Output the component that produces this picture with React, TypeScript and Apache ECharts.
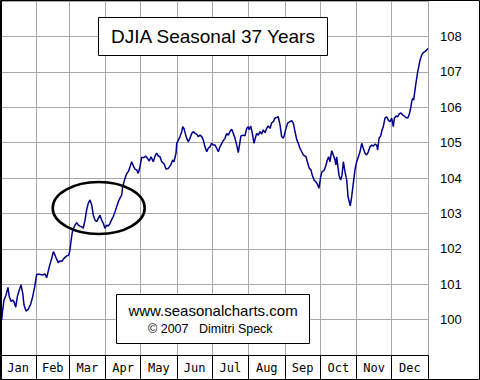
import React, { useEffect, useRef } from "react";
import * as echarts from "echarts";

const TITLE = "DJIA Seasonal 37 Years";
const SITE = "www.seasonalcharts.com";
const COPY_YEAR = "© 2007";
const COPY_NAME = "Dimitri Speck";

const months = ["Jan", "Feb", "Mar", "Apr", "May", "Jun", "Jul", "Aug", "Sep", "Oct", "Nov", "Dec"];
const monthStarts = [0, 31, 59, 90, 120, 151, 181, 212, 243, 273, 304, 334, 365];
const yTicks = [100, 101, 102, 103, 104, 105, 106, 107, 108];

// day of year
const days = [1.4,2.3,3.4,5.1,6.8,7.9,9.4,10.8,11.9,13.4,14.8,16.5,17.9,19.4,20.5,22.2,24.1,26.2,27.9,29.6,31.3,33.5,36.4,38.4,39.8,42.0,44.1,45.5,46.9,48.4,49.7,51.2,52.6,54.6,56.9,58.6,59.7,60.5,
61.1,61.7,62.5,64.0,65.4,66.8,68.2,69.7,71.0,72.5,73.9,75.3,76.8,78.2,79.6,81.0,82.5,83.8,85.3,86.7,88.1,89.5,91.0,92.4,93.8,95.3,96.6,98.1,99.5,100.9,102.3,103.8,104.6,106.6,108.1,109.4,110.9,112.3,113.7,115.1,116.6,117.9,119.4,
120.8,122.8,124.5,125.6,127.3,128.8,130.7,132.2,133.6,135.0,136.4,137.9,139.9,141.6,143.5,145.6,147.3,148.4,150.1,150.7,152.1,153.5,155.0,155.8,156.9,158.0,159.2,160.6,162.0,163.5,164.8,166.3,167.7,169.1,170.6,172.0,173.4,174.8,176.3,177.6,179.1,180.5,181.9,183.4,184.8,186.2,187.6,
189.9,191.9,193.3,194.7,196.1,197.6,199.0,200.4,201.9,203.2,204.7,205.5,207.5,208.9,210.4,211.7,212.6,213.8,215.2,216.6,217.7,218.9,220.3,221.7,223.2,224.5,226.0,227.4,228.8,230.3,231.7,233.1,234.5,236.0,237.3,238.8,240.2,241.6,242.5,243.9,245.3,247.3,248.8,250.1,251.6,253.0,254.4,255.8,
258.7,261.0,262.1,263.8,265.2,266.3,267.8,269.2,270.6,272.0,273.5,274.6,276.3,277.8,279.1,280.3,281.4,282.9,284.2,285.7,286.5,287.1,288.0,289.1,290.5,291.7,292.8,294.2,295.7,296.8,297.9,298.7,299.9,301.3,302.7,304.2,305.6,307.0,308.5,309.8,311.3,312.7,314.1,315.5,
317.0,318.4,319.8,321.2,322.1,323.2,324.7,325.8,326.9,328.3,329.8,331.1,332.6,334.0,335.4,336.3,337.7,339.2,340.5,342.0,343.4,344.8,346.2,347.7,349.1,350.2,351.1,352.0,352.8,353.7,354.5,355.4,356.2,357.1,358.2,359.6,361.0,362.4,363.9,365.0];

const values = [99.99,100.27,100.55,100.69,100.91,100.65,100.51,100.55,100.51,100.35,100.65,100.84,100.98,100.74,100.41,100.24,100.29,100.44,100.65,100.93,101.28,101.28,101.26,101.29,101.18,101.49,101.73,101.92,101.82,101.70,101.61,101.66,101.64,101.73,101.80,101.82,101.97,102.20,
102.34,102.48,102.55,102.67,102.74,102.67,102.64,102.62,102.58,102.81,103.10,103.29,103.38,103.24,102.95,102.81,102.77,102.86,102.95,102.81,102.72,102.58,102.67,102.64,102.72,102.83,102.91,103.05,103.19,103.33,103.43,103.52,103.75,103.99,104.13,104.18,104.32,104.46,104.34,104.25,104.23,104.13,104.32,
104.58,104.58,104.62,104.56,104.48,104.60,104.46,104.62,104.70,104.62,104.60,104.46,104.40,104.25,104.27,104.37,104.51,104.46,104.70,104.98,105.07,105.17,105.31,105.45,105.40,105.26,105.12,105.03,105.12,105.26,105.31,105.26,105.24,105.17,105.21,105.17,105.07,104.88,104.74,104.84,104.88,104.98,104.93,104.93,104.84,104.74,104.88,
105.03,105.12,105.26,105.21,105.31,105.38,105.26,105.12,104.93,104.72,105.03,105.19,105.21,105.19,105.40,105.45,105.36,105.47,105.26,104.98,105.12,105.26,105.21,105.31,105.24,105.36,105.28,105.40,105.47,105.40,105.56,105.59,105.69,105.71,105.73,105.50,105.17,105.12,105.21,105.40,105.55,105.59,105.62,105.55,105.31,105.09,104.98,104.84,
104.65,104.60,104.46,104.27,104.23,104.08,103.94,103.90,103.83,103.71,104.04,104.18,104.21,104.34,104.51,104.60,104.46,104.77,104.65,104.51,104.37,104.60,104.37,104.08,103.94,104.08,104.46,104.18,103.94,103.47,103.33,103.21,103.47,103.85,104.23,104.46,104.60,104.74,104.98,104.84,104.70,104.65,104.74,104.88,
104.93,104.90,104.96,104.93,104.79,105.12,105.19,105.36,105.45,105.69,105.73,105.64,105.59,105.69,105.45,105.69,105.75,105.73,105.81,105.84,105.78,105.75,105.71,105.69,105.81,105.97,106.16,106.25,106.20,106.44,106.63,106.82,107.00,107.14,107.33,107.47,107.54,107.57,107.62,107.66];

export default function App() {
  const ref = useRef<HTMLDivElement>(null);
  useEffect(() => {
    if (!ref.current) return;
    const chart = echarts.init(ref.current, null, { renderer: "svg" });
    const mids = months.map((_, i) => (monthStarts[i] + monthStarts[i + 1]) / 2);
    const data = days.map((d, i) => [d, values[i]]);
    chart.setOption({
      animation: false,
      backgroundColor: "#ffffff",
      grid: { left: 0, right: 52, top: 1, bottom: 25, containLabel: false },
      xAxis: {
        type: "value",
        min: 0,
        max: 365,
        axisLine: { show: true, onZero: false, lineStyle: { color: "#000", width: 1 } },
        axisTick: { show: true, customValues: monthStarts, length: 25, lineStyle: { color: "#000", width: 1 } },
        splitLine: { show: true, lineStyle: { color: "#a8a8a8", width: 1 } },
        axisLabel: {
          customValues: mids,
          formatter: (v: number) => {
            let best = 0;
            mids.forEach((m, i) => { if (Math.abs(m - v) < Math.abs(mids[best] - v)) best = i; });
            return months[best];
          },
          color: "#000",
          fontFamily: "DejaVu Sans Mono",
          fontSize: 12,
          margin: 7,
        },
      },
      yAxis: {
        type: "value",
        position: "right",
        min: 99,
        max: 109,
        interval: 1,
        axisLine: { show: false },
        axisTick: { show: false },
        splitLine: { show: true, lineStyle: { color: "#a8a8a8", width: 1 } },
        axisLabel: {
          formatter: (v: number) => (yTicks.indexOf(v) >= 0 ? String(v) : ""),
          color: "#000",
          fontFamily: "Liberation Sans",
          fontSize: 13,
          margin: 12,
        },
      },
      series: [
        {
          type: "line",
          data,
          showSymbol: false,
          symbol: "none",
          lineStyle: { color: "#00008b", width: 1.5 },
          z: 3,
        },
      ],
      graphic: [
        {
          type: "rect",
          z: 100,
          shape: { x: 98.5, y: 17.5, width: 229, height: 38 },
          style: { fill: "#fff", stroke: "#000", lineWidth: 1 },
        },
        {
          type: "text",
          z: 101,
          x: 213,
          y: 36.5,
          style: { text: TITLE, fill: "#000", fontSize: 19, fontFamily: "Liberation Sans", align: "center", verticalAlign: "middle" },
        },
        {
          type: "rect",
          z: 100,
          shape: { x: 116.5, y: 294.5, width: 193, height: 49 },
          style: { fill: "#fff", stroke: "#000", lineWidth: 1 },
        },
        {
          type: "text",
          z: 101,
          x: 213,
          y: 310,
          style: { text: SITE, fill: "#000", fontSize: 15, fontFamily: "Liberation Sans", align: "center", verticalAlign: "middle" },
        },
        {
          type: "text",
          z: 101,
          x: 148,
          y: 329,
          style: { text: COPY_YEAR, fill: "#000", fontSize: 12.5, fontFamily: "Liberation Sans", align: "left", verticalAlign: "middle" },
        },
        {
          type: "text",
          z: 101,
          x: 199,
          y: 329,
          style: { text: COPY_NAME, fill: "#000", fontSize: 12.5, fontFamily: "Liberation Sans", align: "left", verticalAlign: "middle" },
        },
        {
          type: "ellipse",
          z: 100,
          shape: { cx: 98.7, cy: 208, rx: 46, ry: 26 },
          style: { fill: "none", stroke: "#000", lineWidth: 2.6 },
        },
        {
          type: "rect",
          z: 110,
          shape: { x: 0.5, y: 0.5, width: 479, height: 379 },
          style: { fill: "none", stroke: "#000", lineWidth: 1 },
        },
        {
          type: "line",
          z: 110,
          shape: { x1: 1.5, y1: 0, x2: 1.5, y2: 380 },
          style: { stroke: "#000", lineWidth: 1 },
        },
      ],
    });
    return () => chart.dispose();
  }, []);
  return (
    <div
      ref={ref}
      style={{ position: "absolute", left: 0, top: 0, width: 480, height: 380, background: "#fff" }}
    />
  );
}
